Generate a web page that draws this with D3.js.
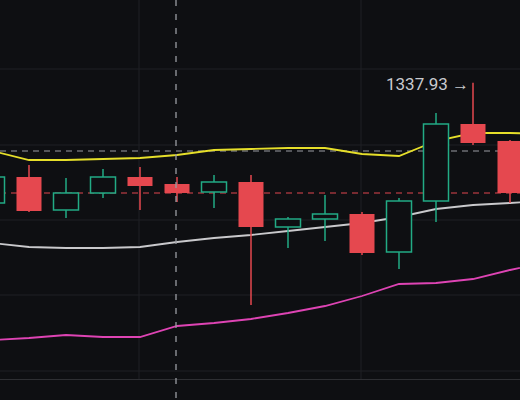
<!DOCTYPE html>
<html><head><meta charset="utf-8">
<script src="https://cdn.jsdelivr.net/npm/d3@7"></script>
<style>body{margin:0;background:#0e0f12}svg{display:block}</style>
</head><body><div id="chart"></div>
<script>
var open  = [1247.75,1267.25,1242.5,1255.25,1267.25,1262,1256,1263.5,1229.75,1235.75,1239.5,1211,1249.25,1307,1294.25];
var close = [1267.25,1241.75,1255.25,1267.25,1260.5,1255.25,1263.5,1229.75,1235.75,1239.5,1210.25,1249.25,1307,1292.75,1255.25];
var high  = [1268.75,1276.25,1266.5,1273.25,1274.75,1267.25,1268.75,1268.75,1237.25,1253.75,1241,1251.5,1315.25,1337.93,1295];
var low   = [1246.25,1241,1236.5,1251.5,1242.5,1248.5,1244,1171.25,1214,1219.25,1208.75,1198.25,1233.5,1291.25,1247.75];
var maYellow  = [1286.75,1280,1280,1280.75,1281.5,1283.75,1287.5,1288.25,1289,1289,1284.5,1283,1294.25,1300.25,1300.25,1299.5];
var maWhite   = [1217.75,1214.75,1214,1214,1214.75,1218.5,1221.5,1223.75,1226.75,1229.75,1232.75,1237.25,1243.25,1246.25,1247.75,1249.25];
var maMagenta = [1145,1146.5,1148.75,1147.25,1147.25,1155.5,1157.75,1160.75,1165.25,1170.5,1178,1187,1187.75,1190.75,1197.5,1203.5];
var gridPrices = [1348.25,1291.25,1235,1178.75,1121.75];
var gridIndex = [4,10];
var crossIndex = 5;
var refHigh = 1286.75, lastClose = 1255.25, peakIndex = 13;

var W = 520, H = 400;
var svg = d3.select("#chart").append("svg").attr("width", W).attr("height", H);
svg.append("rect").attr("width", W).attr("height", H).attr("fill", "#0e0f12");

var x = d3.scaleLinear().domain([0, 1]).range([-8, 29]);
var y = d3.scaleLinear().domain([1400, 1100]).range([0, 400]);

// grid
svg.selectAll(".gh").data(gridPrices).enter().append("line")
  .attr("x1", 0).attr("x2", W).attr("y1", d => y(d)).attr("y2", d => y(d))
  .attr("stroke", "#1f2024");
svg.selectAll(".gv").data(gridIndex).enter().append("line")
  .attr("x1", d => x(d) - 1).attr("x2", d => x(d) - 1).attr("y1", 0).attr("y2", 379)
  .attr("stroke", "#1f2024");
svg.append("line").attr("x1", 0).attr("x2", W).attr("y1", 379.5).attr("y2", 379.5).attr("stroke", "#2e2f33");

// dashed refs
svg.append("line").attr("x1", 0).attr("x2", W).attr("y1", y(refHigh)).attr("y2", y(refHigh))
  .attr("stroke", "#9a9ca2").attr("stroke-dasharray", "6,5");
svg.append("line").attr("x1", 0).attr("x2", W).attr("y1", y(lastClose)).attr("y2", y(lastClose))
  .attr("stroke", "#e0474f").attr("stroke-dasharray", "6,5");

// lines
function drawLine(arr, col) {
  svg.append("path").datum(arr)
    .attr("d", d3.line().x((d, i) => x(i)).y(d => y(d)))
    .attr("fill", "none").attr("stroke", col).attr("stroke-width", 1.8);
}
drawLine(maYellow, "#e6df2a");
drawLine(maWhite, "#c9c9cc");
drawLine(maMagenta, "#de44b4");

// candles
var idx = d3.range(open.length);
var g = svg.append("g");
idx.forEach(function(i) {
  var up = close[i] >= open[i];
  var col = up ? "#22ab85" : "#e5484f";
  var top = Math.max(open[i], close[i]), bot = Math.min(open[i], close[i]);
  g.append("line").attr("x1", x(i)).attr("x2", x(i)).attr("y1", y(high[i])).attr("y2", y(top))
    .attr("stroke", col).attr("stroke-width", 1.5);
  g.append("line").attr("x1", x(i)).attr("x2", x(i)).attr("y1", y(bot)).attr("y2", y(low[i]))
    .attr("stroke", col).attr("stroke-width", 1.5);
  g.append("rect").attr("x", x(i) - 12.5).attr("width", 25)
    .attr("y", y(top)).attr("height", Math.max(1, y(bot) - y(top)))
    .attr("fill", up ? "#0e0f12" : col).attr("stroke", col).attr("stroke-width", up ? 1.5 : 0);
});

// crosshair
svg.append("line").attr("x1", x(crossIndex) - 1).attr("x2", x(crossIndex) - 1).attr("y1", 0).attr("y2", H)
  .attr("stroke", "#9a9ca2").attr("stroke-width", 1.3).attr("stroke-dasharray", "6,8");

// peak label
svg.append("text").attr("x", x(peakIndex) - 4).attr("y", y(high[peakIndex]) + 7)
  .attr("text-anchor", "end").attr("fill", "#c9cacf")
  .style("font", "17px Roboto, sans-serif")
  .text(d3.format(".2f")(high[peakIndex]) + " \u2192");
</script></body></html>
